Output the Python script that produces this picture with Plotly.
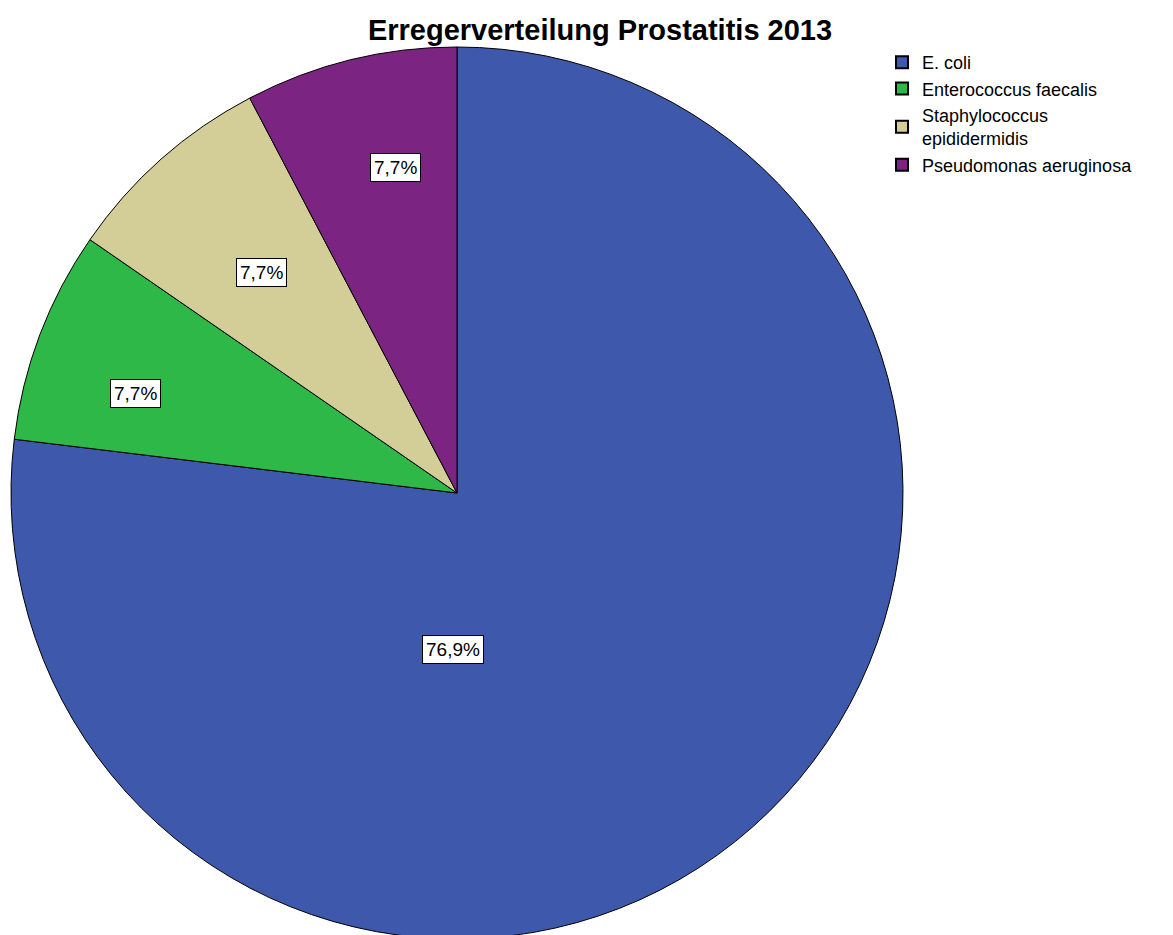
import math
import plotly.graph_objects as go

labels = ["E. coli", "Enterococcus faecalis", "Staphylococcus<br>epididermidis", "Pseudomonas aeruginosa"]
counts = [10, 1, 1, 1]
colors = ["#3E58AC", "#2EB848", "#D3CE97", "#7B2481"]
# label placement (styling): radius fraction, angle adjustment (deg) and optional override
label_r = [0.35, 0.754, 0.662, 0.742]
label_angle_adjust = [0, -3.5, 0, 3.2]
label_angle_override = [181.5, None, None, None]

W, H = 1173, 935
mt, mb = 39, 0
ph = H - mt - mb
D = 892
dom_x = [3 / W, (3 + D) / W]
dom_y = [1 - D / ph, 1]

FONT = "Liberation Sans, Arial, sans-serif"

fig = go.Figure(go.Pie(
    labels=labels, values=counts, sort=False, direction="clockwise", rotation=0,
    marker=dict(colors=colors, line=dict(color="#000000", width=1)),
    textinfo="none", hoverinfo="label+percent",
    domain=dict(x=dom_x, y=dom_y),
))

total = sum(counts)
R = D / 2
cx = (dom_x[0] + dom_x[1]) / 2 * W
cy = mt + R
cum = 0
for i, v in enumerate(counts):
    mid = (cum + v / 2) / total * 360
    cum += v
    ang = label_angle_override[i] if label_angle_override[i] is not None else mid + label_angle_adjust[i]
    a = math.radians(ang)
    px = cx + label_r[i] * R * math.sin(a)
    py = cy - label_r[i] * R * math.cos(a)
    pct = f"{v / total * 100:.1f}%".replace(".", ",")
    fig.add_annotation(
        x=px / W, y=1 - (py - mt) / ph, xref="paper", yref="paper",
        xanchor="center", yanchor="middle",
        text=pct, showarrow=False, bgcolor="#FFFFFF", bordercolor="#000000",
        borderwidth=1, borderpad=3,
        font=dict(family=FONT, size=19, color="#000000"),
    )

fig.update_layout(
    width=W, height=H,
    margin=dict(l=0, r=0, t=mt, b=mb),
    paper_bgcolor="#FFFFFF", plot_bgcolor="#FFFFFF",
    title=dict(text="<b>Erregerverteilung Prostatitis 2013</b>", x=592 / W, xanchor="center",
               y=1 - 22 / H, yanchor="middle",
               font=dict(family=FONT, size=29, color="#000000")),
    legend=dict(x=874 / W, xanchor="left", y=1 - (36 - mt) / ph, yanchor="top",
                font=dict(family=FONT, size=18, color="#000000"),
                itemsizing="constant", bgcolor="rgba(0,0,0,0)"),
)

fig.write_html("out.html")
